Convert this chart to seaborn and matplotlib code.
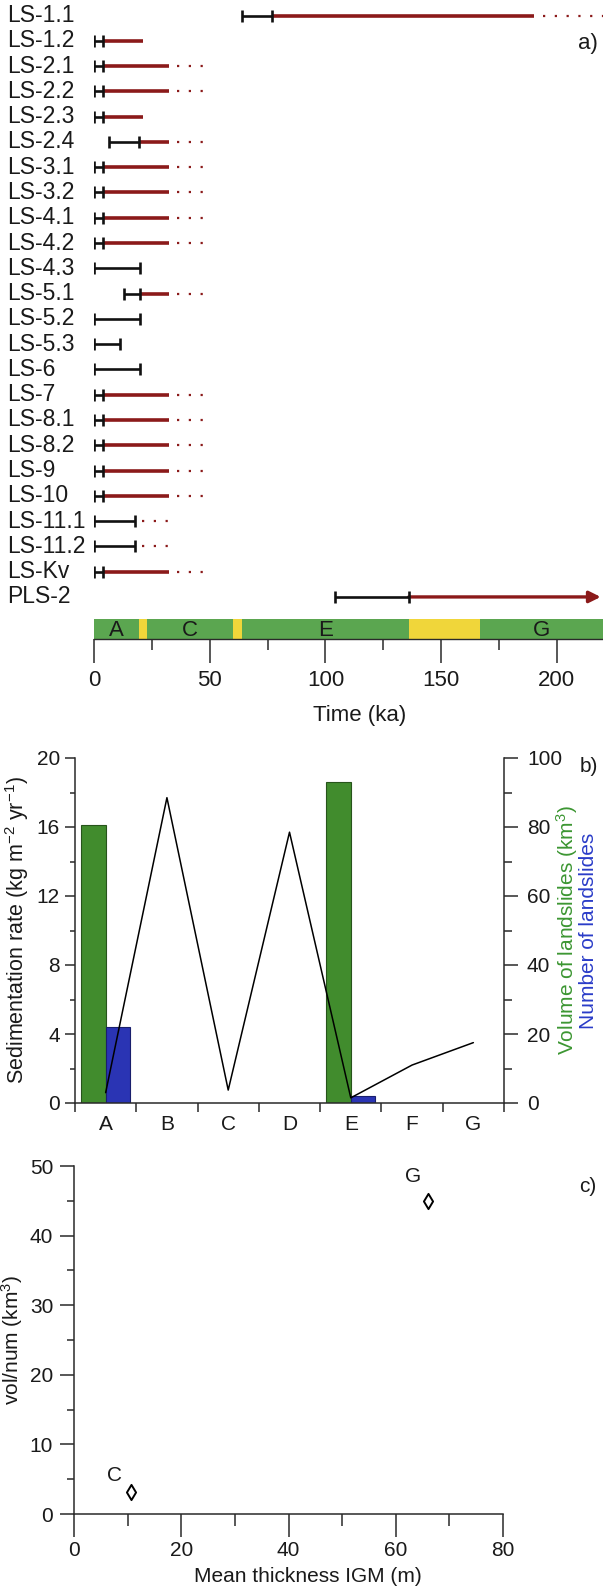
import numpy as np
import pandas as pd
import matplotlib
matplotlib.use("Agg")
import matplotlib.pyplot as plt
import matplotlib.transforms as mtrans
from matplotlib.ticker import MultipleLocator, FixedLocator
import seaborn as sns

nan = np.nan

# ---------------- panel a data ----------------
landslides = ["LS-1.1", "LS-1.2", "LS-2.1", "LS-2.2", "LS-2.3", "LS-2.4", "LS-3.1",
              "LS-3.2", "LS-4.1", "LS-4.2", "LS-4.3", "LS-5.1", "LS-5.2", "LS-5.3",
              "LS-6", "LS-7", "LS-8.1", "LS-8.2", "LS-9", "LS-10", "LS-11.1",
              "LS-11.2", "LS-Kv", "PLS-2"]
age_min = [64, 0, 0, 0, 0, 6.3, 0, 0, 0, 0, 0, 12.8, 0, 0, 0, 0, 0, 0, 0, 0, 0, 0, 0, 104]
age_max = [77, 4, 4, 4, 4, 19.5, 4, 4, 4, 4, 20, 20, 20, 11.1, 20, 4, 4, 4, 4, 4,
           17.5, 17.5, 4, 136]
range_end = [190, 21, 32.4, 32.4, 21, 32.4, 32.4, 32.4, 32.4, 32.4, nan, 32.4, nan, nan,
             nan, 32.4, 32.4, 32.4, 32.4, 32.4, nan, nan, 32.4, 219]
dot_start = [194, nan, 36, 36, nan, 36, 36, 36, 36, 36, nan, 36, nan, nan, nan, 36, 36,
             36, 36, 36, 20.8, 20.8, 36, nan]
dot_end = [222, nan, 49.5, 49.5, nan, 49.5, 49.5, 49.5, 49.5, 49.5, nan, 49.5, nan, nan,
           nan, 49.5, 49.5, 49.5, 49.5, 49.5, 34.3, 34.3, 49.5, nan]
open_ended = [False] * 23 + [True]

stage_names = ["A", "B", "C", "D", "E", "F", "G"]
stage_start = [0, 19.5, 22.7, 60, 64, 136, 167]
stage_end = [19.5, 22.7, 60, 64, 136, 167, 220]
stage_warm = [True, False, True, False, True, False, True]

# ---------------- panel b data ----------------
sed_rate = [0.6, 17.7, 0.75, 15.7, 0.3, 2.2, 3.5]
ls_volume = [80.5, nan, nan, nan, 93, nan, nan]
ls_number = [22, nan, nan, nan, 2, nan, nan]

# ---------------- panel c data ----------------
igm_thickness = [10.6, 66]
vol_per_num = [3.1, 45]
point_labels = ["C", "G"]

# ---------------- style ----------------
sns.set_style("ticks")
plt.rcParams["font.family"] = ["Liberation Sans", "DejaVu Sans"]
plt.rcParams["mathtext.fontset"] = "custom"
plt.rcParams["mathtext.rm"] = "Liberation Sans"
plt.rcParams["mathtext.it"] = "Liberation Sans:italic"
plt.rcParams["mathtext.default"] = "regular"
FS = 15
FS_A = 16
FS_ROW = 16.5
TXT = "#1a1a1a"
SPINE = "#2a2a2a"
GREEN_BAND = "#5ba650"
YELLOW_BAND = "#f0d63a"
RED = "#8b1a1a"
BAR_GREEN = "#418c2d"
BAR_BLUE = "#2a34b4"

W, H = 603, 1590
fig = plt.figure(figsize=(W / 100, H / 100), dpi=100)


def rect(l, t, r, b):
    return [l / W, 1 - b / H, (r - l) / W, (b - t) / H]


# ================= panel a =================
ax_a = fig.add_axes(rect(94.2, 0, 603, 612))
ax_a.set_xlim(0, 220)
row_px0, row_dpx = 15.5, 25.28
ax_a.set_ylim((612 - row_px0) / row_dpx, -row_px0 / row_dpx)
ax_a.axis("off")

ys = np.arange(len(landslides))
for i, y in enumerate(ys):
    if not np.isnan(range_end[i]):
        if open_ended[i]:
            ax_a.annotate("", xy=(range_end[i], y), xytext=(age_max[i], y),
                          arrowprops=dict(arrowstyle="-|>", color=RED, lw=2.4,
                                          mutation_scale=17, shrinkA=0, shrinkB=0))
        else:
            ax_a.plot([age_max[i], range_end[i]], [y, y], color=RED, lw=2.6,
                      solid_capstyle="butt", zorder=2)
    if not np.isnan(dot_start[i]):
        ax_a.plot([dot_start[i], dot_end[i]], [y, y], color=RED, lw=1.6,
                  linestyle=(0, (1, 4.3)), zorder=2)
    ax_a.plot([age_min[i], age_max[i]], [y, y], color="#111111", lw=1.9,
              marker="|", ms=8.5, mew=1.9, solid_capstyle="butt", zorder=3)

lab_tr = mtrans.blended_transform_factory(fig.transFigure, ax_a.transData)
for i, name in enumerate(landslides):
    ax_a.text(7 / W, ys[i], name, transform=lab_tr, ha="left", va="center",
              fontsize=FS_ROW, color=TXT, clip_on=False)

ax_band = fig.add_axes(rect(94.2, 619, 603, 639))
ax_band.set_xlim(0, 220)
ax_band.set_ylim(0, 1)
band_colors = [GREEN_BAND if w else YELLOW_BAND for w in stage_warm]
ax_band.barh(0.5, np.array(stage_end) - np.array(stage_start), left=stage_start,
             height=1, color=band_colors, linewidth=0)
for s, a, b, w in zip(stage_names, stage_start, stage_end, stage_warm):
    if w:
        ax_band.text((a + b) / 2, 0.45, s, ha="center", va="center", fontsize=FS_A,
                     color=TXT)
for sp in ["top", "left", "right"]:
    ax_band.spines[sp].set_visible(False)
ax_band.spines["bottom"].set_color(SPINE)
ax_band.spines["bottom"].set_linewidth(1.0)
ax_band.set_yticks([])
ax_band.xaxis.set_major_locator(FixedLocator([0, 50, 100, 150, 200]))
ax_band.xaxis.set_minor_locator(FixedLocator([25, 75, 125, 175]))
ax_band.tick_params(axis="x", which="major", length=17.3, width=1.1, color=SPINE,
                    labelsize=FS_A, labelcolor=TXT, pad=5)
ax_band.tick_params(axis="x", which="minor", length=7.9, width=1.1, color=SPINE)
ax_band.set_xlabel("Time (ka)", fontsize=FS_A, color=TXT)
ax_band.xaxis.set_label_coords((360 - 94.2) / 508.8, -(716 - 639) / 20)
ax_band.xaxis.label.set_va("center")
fig.text(588 / W, 1 - 43 / H, "a)", ha="center", va="center", fontsize=FS_A, color=TXT)

# ================= panel b =================
ax_b = fig.add_axes(rect(75, 758, 504, 1103))
ax_r = ax_b.twinx()

bars = pd.DataFrame({
    "stage": stage_names * 2,
    "value": ls_volume + ls_number,
    "kind": ["volume"] * 7 + ["number"] * 7,
}).dropna()
sns.barplot(data=bars, x="stage", y="value", hue="kind", order=stage_names,
            hue_order=["volume", "number"], palette=[BAR_GREEN, BAR_BLUE],
            errorbar=None, width=0.8, saturation=1, legend=False, ax=ax_r,
            linewidth=0.8)
for p in ax_r.patches:
    fc = np.array(p.get_facecolor())
    p.set_edgecolor(tuple(np.r_[fc[:3] * 0.6, 1]))

sns.lineplot(x=np.arange(len(stage_names)), y=sed_rate, color="black", lw=1.1,
             ax=ax_b)
ax_b.set_zorder(ax_r.get_zorder() + 1)
ax_b.patch.set_visible(False)

ax_b.set_xlim(-0.5, len(stage_names) - 0.5)
ax_b.set_ylim(0, 20)
ax_r.set_ylim(0, 100)
ax_b.set_xticks(np.arange(-0.5, len(stage_names), 1))
ax_b.set_xticklabels([])
ax_b.set_xticks(np.arange(len(stage_names)), labels=stage_names, minor=True)
ax_b.tick_params(axis="x", which="major", length=6.5, width=1.1, color=SPINE)
ax_b.tick_params(axis="x", which="minor", length=0, labelsize=FS, labelcolor=TXT,
                 pad=9)
ax_b.yaxis.set_major_locator(MultipleLocator(4))
ax_b.yaxis.set_minor_locator(MultipleLocator(2))
ax_b.tick_params(axis="y", which="major", length=7.2, width=1.1, color=SPINE,
                 labelsize=FS, labelcolor=TXT, pad=3.6)
ax_b.tick_params(axis="y", which="minor", length=3.6, width=1.1, color=SPINE)
ax_r.yaxis.set_major_locator(MultipleLocator(20))
ax_r.yaxis.set_minor_locator(MultipleLocator(10))
ax_r.tick_params(axis="y", which="major", length=10, width=1.1, color=SPINE,
                 labelsize=FS, labelcolor=TXT, pad=6.5)
ax_r.tick_params(axis="y", which="minor", length=5.8, width=1.1, color=SPINE)
ax_r.set_xlabel("")
ax_r.set_ylabel("")
for ax in (ax_b, ax_r):
    ax.spines["top"].set_visible(False)
    for sp in ["left", "right", "bottom"]:
        ax.spines[sp].set_color(SPINE)
        ax.spines[sp].set_linewidth(1.1)
ax_b.spines["right"].set_visible(False)
ax_r.spines["left"].set_visible(False)
ax_r.spines["bottom"].set_visible(False)

ax_b.set_ylabel("Sedimentation rate (kg m$^{-2}$ yr$^{-1}$)", fontsize=FS + 0.5,
                color=TXT)
ax_b.yaxis.set_label_coords((17 - 75) / 429, 0.5)
ax_b.yaxis.label.set_va("center")
ax_r.text((567 - 75) / 429, 0.5, "Volume of landslides (km$^3$)", rotation=90,
          ha="center", va="center", fontsize=FS, color="#3c9632",
          transform=ax_r.transAxes)
ax_r.text((589 - 75) / 429, 0.5, "Number of landslides", rotation=90,
          ha="center", va="center", fontsize=FS, color="#2a3cc8",
          transform=ax_r.transAxes)
fig.text(589 / W, 1 - 767 / H, "b)", ha="center", va="center", fontsize=FS, color=TXT)

# ================= panel c =================
ax_c = fig.add_axes(rect(74, 1166, 503, 1514))
sns.scatterplot(x=igm_thickness, y=vol_per_num, marker="d", s=60, color="white",
                edgecolor="black", linewidth=1.4, ax=ax_c, zorder=3)
for xv, yv, lab, off in zip(igm_thickness, vol_per_num, point_labels,
                            [(-16, 17), (-15, 24)]):
    ax_c.annotate(lab, (xv, yv), xytext=off, textcoords="offset pixels",
                  ha="center", va="center", fontsize=FS, color=TXT)
ax_c.set_xlim(0, 80)
ax_c.set_ylim(0, 50)
ax_c.xaxis.set_major_locator(MultipleLocator(20))
ax_c.xaxis.set_minor_locator(MultipleLocator(10))
ax_c.yaxis.set_major_locator(MultipleLocator(10))
ax_c.yaxis.set_minor_locator(MultipleLocator(5))
ax_c.tick_params(axis="x", which="major", length=16.5, width=1.1, color=SPINE,
                 labelsize=FS, labelcolor=TXT, pad=2.7)
ax_c.tick_params(axis="x", which="minor", length=8.6, width=1.1, color=SPINE)
ax_c.tick_params(axis="y", which="major", length=10, width=1.1, color=SPINE,
                 labelsize=FS, labelcolor=TXT, pad=5)
ax_c.tick_params(axis="y", which="minor", length=5, width=1.1, color=SPINE)
for sp in ["top", "right"]:
    ax_c.spines[sp].set_visible(False)
for sp in ["left", "bottom"]:
    ax_c.spines[sp].set_color(SPINE)
    ax_c.spines[sp].set_linewidth(1.1)
ax_c.set_xlabel("Mean thickness IGM (m)", fontsize=FS, color=TXT)
ax_c.xaxis.set_label_coords((308 - 74) / 429, -(1577 - 1514) / 348)
ax_c.xaxis.label.set_va("center")
ax_c.set_ylabel("vol/num (km$^3$)", fontsize=FS, color=TXT)
ax_c.yaxis.set_label_coords((12 - 74) / 429, 0.5)
ax_c.yaxis.label.set_va("center")
fig.text(588 / W, 1 - 1187 / H, "c)", ha="center", va="center", fontsize=FS, color=TXT)

fig.savefig("out.png", dpi=100)
